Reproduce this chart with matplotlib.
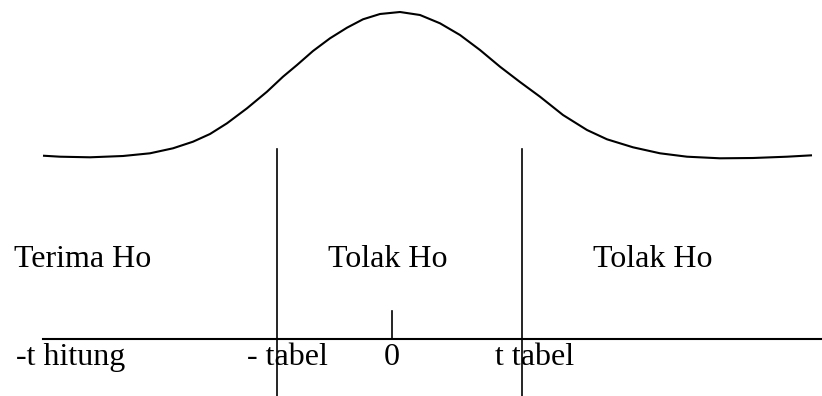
import matplotlib
matplotlib.use("Agg")
from matplotlib import pyplot as plt

# bell curve (pixel coords, y grows downward)
curve_x = [43, 60, 90, 123, 150, 173, 193, 210, 227, 247, 267, 283, 297, 313,
           330, 347, 363, 380, 400, 420, 440, 460, 480, 500, 520, 540, 563,
           587, 607, 633, 660, 687, 720, 753, 787, 812]
curve_y = [155.7, 156.7, 157.3, 156, 153.3, 148.3, 141.7, 134, 123.3, 108.3,
           91.7, 76.7, 65, 51, 38.3, 27.7, 19.3, 14, 12, 15, 23.3, 35, 50,
           66.7, 82, 96.7, 115, 130, 139.3, 147.3, 153.3, 156.7, 158.3, 158,
           156.7, 155.3]

# critical value lines and the zero tick
bound_x = [277, 522]
bound_top, bound_bottom = 149, 396
axis_y, axis_start, axis_end = 339, 43, 822
zero_x, zero_top = 392, 311

# region labels (left x, baseline y)
region_labels = ["Terima Ho", "Tolak Ho", "Tolak Ho"]
region_x = [14, 328, 593]
region_y = 267

# axis labels
axis_labels = ["-t hitung", "- tabel", "0", "t tabel"]
axis_label_x = [16, 247, 384, 495]
axis_label_y = 365

fig = plt.figure(figsize=(8.22, 3.96), dpi=100)
ax = fig.add_axes([0, 0, 1, 1])
ax.set_xlim(0, 822)
ax.set_ylim(396, 0)
ax.axis("off")

ax.plot(curve_x, curve_y, color="black", lw=1.5,
        solid_joinstyle="round", solid_capstyle="butt")
for bx in bound_x:
    ax.plot([bx, bx], [bound_top, bound_bottom], color="black", lw=1.2)
ax.plot([axis_start, axis_end], [axis_y, axis_y], color="black", lw=1.5)
ax.plot([zero_x, zero_x], [zero_top, axis_y], color="black", lw=1.2)

font = dict(family="Liberation Serif", size=23, color="black",
            ha="left", va="baseline")
for lab, x in zip(region_labels, region_x):
    ax.text(x, region_y, lab, **font)
for lab, x in zip(axis_labels, axis_label_x):
    ax.text(x, axis_label_y, lab, **font)

fig.savefig("out.png", dpi=100)
